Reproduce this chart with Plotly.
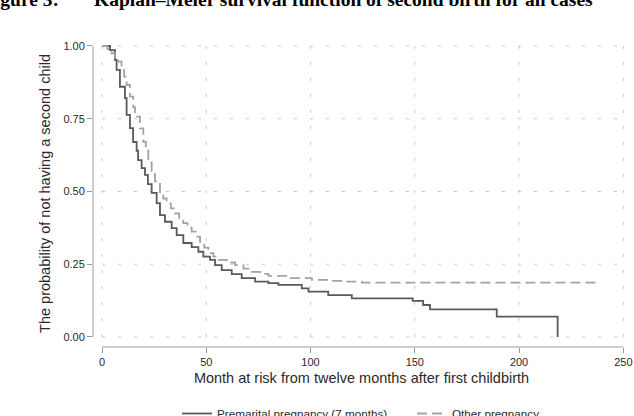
import plotly.graph_objects as go

# Premarital pregnancy (7 months) – Kaplan–Meier step points
pre_t = [0, 3.8, 6.2, 7.0, 8.6, 11, 11.8, 13.4, 14.9, 16.6, 17.3, 19, 20.6, 22, 23.8, 26.2,
         27.8, 30.2, 33.4, 35.8, 39, 43, 46.2, 48.6, 51.8, 54.2, 57.4, 62.2, 67, 73.4,
         79.8, 84.6, 95.8, 99, 108.5, 119.8, 149, 154, 157.3, 189.3, 218.5]
pre_s = [1.0, 0.986, 0.952, 0.918, 0.86, 0.821, 0.763, 0.718, 0.67, 0.64, 0.608, 0.58, 0.557,
         0.525, 0.495, 0.46, 0.419, 0.396, 0.374, 0.35, 0.323, 0.309, 0.293, 0.276, 0.265,
         0.247, 0.23, 0.216, 0.202, 0.19, 0.185, 0.179, 0.167, 0.156, 0.144, 0.133, 0.124,
         0.11, 0.095, 0.07, 0.0]

# Other pregnancy
oth_t = [0, 2.5, 4.6, 6.2, 7.8, 9.4, 10.6, 11.8, 13.4, 15, 15.8, 18.2, 19.8, 21, 22.2, 23.8,
         25.4, 27.8, 29.4, 31, 33, 35, 37, 39, 41, 43, 45, 47, 49, 51, 53.4, 55.8, 59.8,
         63.8, 67.8, 71.8, 75.8, 79.8, 89.4, 100.6, 110, 116.5, 124.6, 238]
oth_s = [1.0, 0.99, 0.975, 0.96, 0.946, 0.923, 0.895, 0.866, 0.826, 0.79, 0.757, 0.717, 0.671,
         0.64, 0.6, 0.57, 0.535, 0.494, 0.476, 0.459, 0.442, 0.425, 0.408, 0.391, 0.376,
         0.362, 0.345, 0.327, 0.307, 0.288, 0.276, 0.265, 0.256, 0.247, 0.235, 0.224, 0.217,
         0.21, 0.202, 0.196, 0.193, 0.19, 0.187, 0.187]

x_ticks = [0, 50, 100, 150, 200, 250]
y_ticks = [0.0, 0.25, 0.5, 0.75, 1.0]
y_tick_text = ["0.00", "0.25", "0.50", "0.75", "1.00"]

W, H = 634, 416
ML, MR, MT, MB = 93, 4, 40, 69
x_range = [-4.32, 253.2]
y_range = [-0.0344, 1.0206]
PW, PH = W - ML - MR, H - MT - MB


def px_x(p):
    return (p - ML) / PW


def px_y(p):
    return (H - MB - p) / PH


fig = go.Figure()
fig.add_trace(go.Scatter(x=pre_t, y=pre_s, mode="lines", line_shape="hv",
                         name="Premarital pregnancy (7 months)",
                         line=dict(color="#5a5a5a", width=1.8)))
fig.add_trace(go.Scatter(x=oth_t, y=oth_s, mode="lines", line_shape="hv",
                         name="Other pregnancy",
                         line=dict(color="#a3a3a3", width=1.8, dash="10px,5px")))

shapes = []
grid = dict(color="#c9c9c9", width=1, dash="3px,13px")
for xv in x_ticks:
    shapes.append(dict(type="line", xref="x", yref="y", x0=xv, x1=xv,
                       y0=y_ticks[0], y1=y_ticks[-1], line=grid, layer="below"))
for yv in y_ticks:
    shapes.append(dict(type="line", xref="x", yref="y", x0=x_ticks[0], x1=x_ticks[-1],
                       y0=yv, y1=yv, line=grid, layer="below"))
axis_col = "#9a9a9a"
shapes.append(dict(type="line", xref="paper", yref="y", x0=0, x1=0,
                   y0=y_ticks[0], y1=y_ticks[-1], line=dict(color=axis_col, width=1)))
shapes.append(dict(type="line", xref="x", yref="paper", x0=x_ticks[0], x1=x_ticks[-1],
                   y0=0, y1=0, line=dict(color=axis_col, width=1)))

txt = "#2a2a2a"
fig.update_layout(
    width=W, height=H,
    margin=dict(l=ML, r=MR, t=MT, b=MB, autoexpand=False),
    paper_bgcolor="white", plot_bgcolor="white",
    font=dict(family="Liberation Sans, Arial, sans-serif", color=txt),
    shapes=shapes,
    xaxis=dict(range=x_range, tickvals=x_ticks, showgrid=False, zeroline=False,
               showline=False, ticks="outside", ticklen=5, tickcolor=axis_col,
               tickfont=dict(size=11, color=txt),
               title=dict(text="Month at risk from twelve months after first childbirth",
                          font=dict(size=14.5, color=txt), standoff=5)),
    yaxis=dict(range=y_range, tickvals=y_ticks, ticktext=y_tick_text, showgrid=False,
               zeroline=False, showline=False, ticks="outside", ticklen=5,
               tickcolor=axis_col, tickfont=dict(size=11, color=txt),
               title=dict(text="The probability of not having a second child",
                          font=dict(size=14.5, color=txt), standoff=9)),
    legend=dict(orientation="h", x=px_x(177), xanchor="left",
                y=px_y(399), yanchor="top",
                font=dict(size=11.7, color=txt),
                entrywidth=190, entrywidthmode="pixels", bgcolor="rgba(0,0,0,0)"),
    showlegend=True,
)

title_font = dict(family="Liberation Serif, Times New Roman, serif", size=19.5, color="#000")
fig.add_annotation(text="<b>Figure 3:</b>", xref="paper", yref="paper",
                   x=px_x(61), y=px_y(0), xanchor="right", yanchor="middle",
                   showarrow=False, font=title_font)
fig.add_annotation(text="<b>Kaplan–Meier survival function of second birth for all cases</b>",
                   xref="paper", yref="paper", x=px_x(92), y=px_y(0),
                   xanchor="left", yanchor="middle", showarrow=False, font=title_font)

fig.write_html("out.html")
